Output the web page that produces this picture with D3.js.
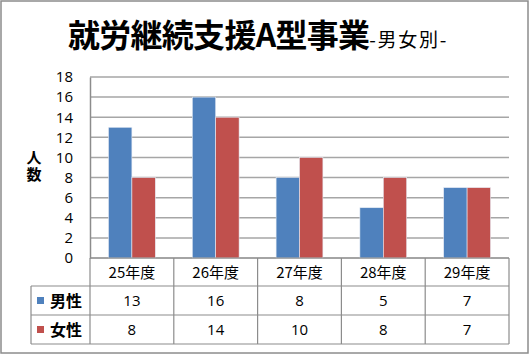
<!DOCTYPE html>
<html>
<head>
<meta charset="utf-8">
<script src="https://cdn.jsdelivr.net/npm/d3@7"></script>
<style>
  body { margin: 0; background: #fff; }
  text { font-family: "Noto Sans CJK JP", "Noto Sans", sans-serif; }
</style>
</head>
<body>
<div id="chart-area"></div>
<script>
const width = 529;
const height = 354;

// data
const years = ["25年度", "26年度", "27年度", "28年度", "29年度"];
const seriesNames = ["男性", "女性"];
const male = [13, 16, 8, 5, 7];
const female = [8, 14, 10, 8, 7];
const yTicks = [0, 2, 4, 6, 8, 10, 12, 14, 16, 18];

const colors = ["#4F81BD", "#C0504D"];
const seriesValues = [male, female];

const plot = {left: 90, right: 509, top: 77, bottom: 258};
const rowH = [28, 29, 29];
const legendLeft = 31;

const svg = d3.select("#chart-area")
    .append("svg")
    .attr("width", width)
    .attr("height", height);

// outer frame
svg.append("rect")
    .attr("x", 1).attr("y", 1)
    .attr("width", width - 2).attr("height", height - 2)
    .attr("fill", "#fff")
    .attr("stroke", "#8c8c8c")
    .attr("stroke-width", 1.5);

// title
const title = svg.append("text")
    .attr("x", 68)
    .attr("y", 47)
    .attr("fill", "#000");
title.append("tspan")
    .attr("font-size", "32px")
    .attr("font-weight", "bold")
    .attr("textLength", 302)
    .text("就労継続支援A型事業");
title.append("tspan")
    .attr("font-size", "19px")
    .attr("textLength", 77)
    .text("-男女別-");

// scales
const x = d3.scaleBand()
    .domain(years)
    .range([plot.left, plot.right]);

const x1 = d3.scaleBand()
    .domain(seriesNames)
    .range([0, x.bandwidth()])
    .paddingOuter(0.79)
    .paddingInner(0);

const y = d3.scaleLinear()
    .domain([0, 18])
    .range([plot.bottom, plot.top]);

// gridlines
svg.append("g")
    .selectAll("line")
    .data(yTicks)
    .enter().append("line")
    .attr("x1", plot.left)
    .attr("x2", plot.right)
    .attr("y1", d => y(d))
    .attr("y2", d => y(d))
    .attr("stroke", "#a6a6a6")
    .attr("stroke-width", 1.5);

// y axis
const leftAxis = d3.axisLeft(y)
    .tickValues(yTicks)
    .tickSize(0)
    .tickPadding(17);

const yAxisGroup = svg.append("g")
    .attr("transform", "translate(" + plot.left + ",0)")
    .call(leftAxis);
yAxisGroup.select(".domain").attr("stroke", "#8c8c8c").attr("stroke-width", 1.5);
yAxisGroup.selectAll("text")
    .attr("font-size", "15px")
    .attr("fill", "#000")
    .style("font-family", "'Open Sans', sans-serif");

// y label (vertical)
svg.append("text")
    .attr("x", 34)
    .attr("y", 150)
    .attr("font-size", "15px")
    .attr("font-weight", "bold")
    .style("writing-mode", "vertical-rl")
    .style("glyph-orientation-vertical", 0)
    .attr("letter-spacing", 2)
    .text("人数");

// bars
seriesValues.forEach((vals, s) => {
    svg.append("g")
        .selectAll("rect")
        .data(vals)
        .enter().append("rect")
        .attr("x", (d, i) => x(years[i]) + x1(seriesNames[s]))
        .attr("y", d => y(d))
        .attr("width", x1.bandwidth())
        .attr("height", d => y(0) - y(d))
        .attr("fill", colors[s])
        .attr("stroke", "#e6ecf5")
        .attr("stroke-width", 0.6);
});

// data table
const rowY = [plot.bottom, plot.bottom + rowH[0], plot.bottom + rowH[0] + rowH[1], plot.bottom + rowH[0] + rowH[1] + rowH[2]];
const table = svg.append("g")
    .attr("stroke", "#8c8c8c")
    .attr("stroke-width", 1.2)
    .attr("fill", "none");

// horizontal lines
table.append("line")
    .attr("x1", plot.left).attr("x2", plot.right)
    .attr("y1", rowY[0]).attr("y2", rowY[0]);
[1, 2, 3].forEach(r => {
    table.append("line")
        .attr("x1", legendLeft).attr("x2", plot.right)
        .attr("y1", rowY[r]).attr("y2", rowY[r]);
});
// vertical lines
table.append("line")
    .attr("x1", legendLeft).attr("x2", legendLeft)
    .attr("y1", rowY[1]).attr("y2", rowY[3]);
years.forEach(yr => {
    table.append("line")
        .attr("x1", x(yr)).attr("x2", x(yr))
        .attr("y1", rowY[0]).attr("y2", rowY[3]);
});
table.append("line")
    .attr("x1", plot.right).attr("x2", plot.right)
    .attr("y1", rowY[0]).attr("y2", rowY[3]);

// category labels
svg.append("g")
    .selectAll("text")
    .data(years)
    .enter().append("text")
    .attr("x", d => x(d) + x.bandwidth() / 2)
    .attr("y", rowY[0] + 20)
    .attr("text-anchor", "middle")
    .attr("font-size", "15px")
    .text(d => d);

// value rows
seriesValues.forEach((vals, s) => {
    svg.append("g")
        .selectAll("text")
        .data(vals)
        .enter().append("text")
        .attr("x", (d, i) => x(years[i]) + x.bandwidth() / 2)
        .attr("y", rowY[s + 1] + 20)
        .attr("text-anchor", "middle")
        .attr("font-size", "15px")
        .style("font-family", "'Open Sans', sans-serif")
        .text(d => d);

    // legend key
    svg.append("rect")
        .attr("x", 37)
        .attr("y", rowY[s + 1] + 11)
        .attr("width", 7)
        .attr("height", 7)
        .attr("fill", colors[s]);
    svg.append("text")
        .attr("x", 50)
        .attr("y", rowY[s + 1] + 21)
        .attr("font-size", "16px")
        .attr("font-weight", "bold")
        .text(seriesNames[s]);
});
</script>
</body>
</html>
